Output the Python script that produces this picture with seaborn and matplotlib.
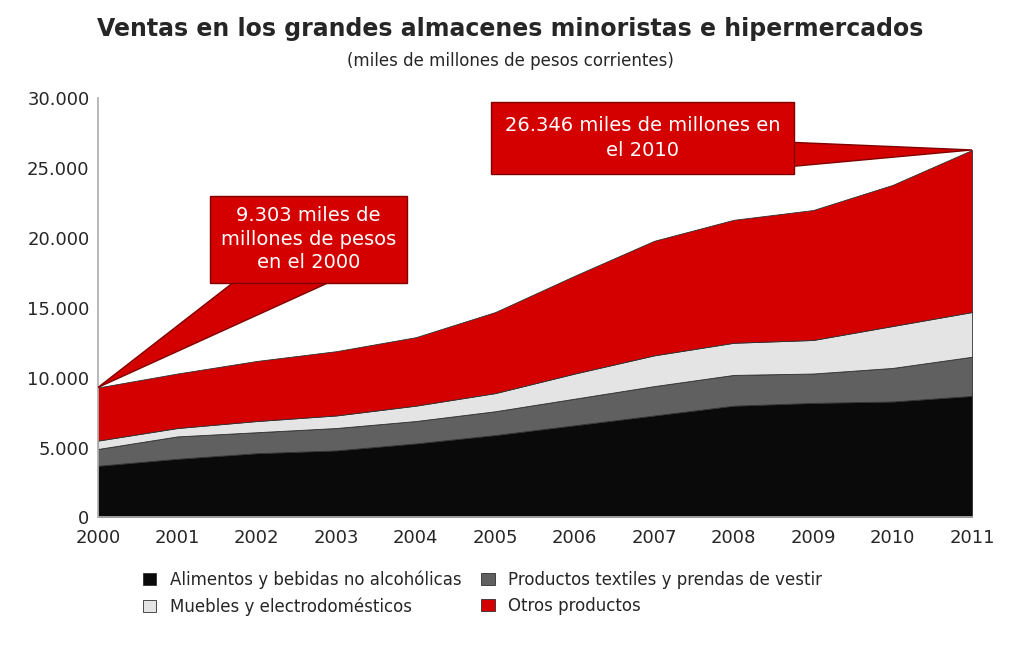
import matplotlib
matplotlib.use("Agg")
import matplotlib.pyplot as plt
import seaborn as sns
from matplotlib.ticker import FuncFormatter

years = [2000,2001,2002,2003,2004,2005,2006,2007,2008,2009,2010,2011]
alimentos = [3700,4200,4600,4800,5300,5900,6600,7300,8000,8200,8300,8700]
textiles = [1200,1600,1500,1600,1600,1700,1900,2100,2200,2100,2400,2800]
muebles = [600,600,800,900,1100,1300,1800,2200,2300,2400,3000,3200]
otros = [3800,3900,4300,4600,4900,5800,7000,8200,8800,9300,10100,11600]
labels = ["Alimentos y bebidas no alcohólicas","Productos textiles y prendas de vestir",
          "Muebles y electrodomésticos","Otros productos"]
colors = ["#0a0a0a","#606060","#e4e4e4","#d40000"]

sns.set_theme(style="white")
plt.rcParams['font.family'] = ['DejaVu Sans']
fig, ax = plt.subplots(figsize=(10.2,6.55), dpi=100)
fig.subplots_adjust(left=0.096, right=0.953, top=0.85, bottom=0.21)
polys = ax.stackplot(years, alimentos, textiles, muebles, otros, colors=colors, labels=labels,
             edgecolor="#303030", linewidth=0.6)
ax.set_xlim(2000, 2011)
ax.set_ylim(0, 30000)
ax.set_yticks(range(0,30001,5000))
ax.yaxis.set_major_formatter(FuncFormatter(lambda v,p: f"{int(v):,}".replace(",", ".")))
ax.set_xticks(years)
ax.tick_params(labelsize=13, length=0)
ax.tick_params(axis="x", pad=8)
ax.tick_params(axis="y", pad=6)
for s in ["top","right"]:
    ax.spines[s].set_visible(False)
ax.spines["left"].set_color("#b0b0b0")
ax.spines["bottom"].set_color("#b0b0b0")
fig.text(0.5, 0.945, "Ventas en los grandes almacenes minoristas e hipermercados",
         ha="center", fontsize=17, fontweight="bold")
fig.text(0.5, 0.9, "(miles de millones de pesos corrientes)", ha="center", fontsize=12)

total = [a+b+c+d for a,b,c,d in zip(alimentos,textiles,muebles,otros)]
red, edge = "#d40000", "#800000"
# callout 1
ax.fill([2001.7, years[0], 2002.9], [16800, total[0], 16800], fc=red, ec=edge, lw=1, zorder=5)
ax.text(2002.65, 19900, "9.303 miles de\nmillones de pesos\nen el 2000", ha="center", va="center",
        fontsize=14, color="white", zorder=6, linespacing=1.3,
        bbox=dict(boxstyle="square,pad=0.55", fc=red, ec=edge, lw=1))
ax.fill([2008.5, years[-1], 2008.5], [26900, total[-1], 25000], fc=red, ec=edge, lw=1, zorder=5)
ax.text(2006.85, 27150, "26.346 miles de millones en\nel 2010", ha="center", va="center",
        fontsize=14, color="white", zorder=6, linespacing=1.4,
        bbox=dict(boxstyle="square,pad=0.7", fc=red, ec=edge, lw=1))

h, l = ax.get_legend_handles_labels()
order = [0, 2, 1, 3]
ax.legend([h[i] for i in order], [l[i] for i in order], loc="upper center",
          bbox_to_anchor=(0.44, -0.09), ncol=2, frameon=False,
          fontsize=12, handlelength=0.8, columnspacing=1.2)
fig.savefig("out.png", dpi=100)
